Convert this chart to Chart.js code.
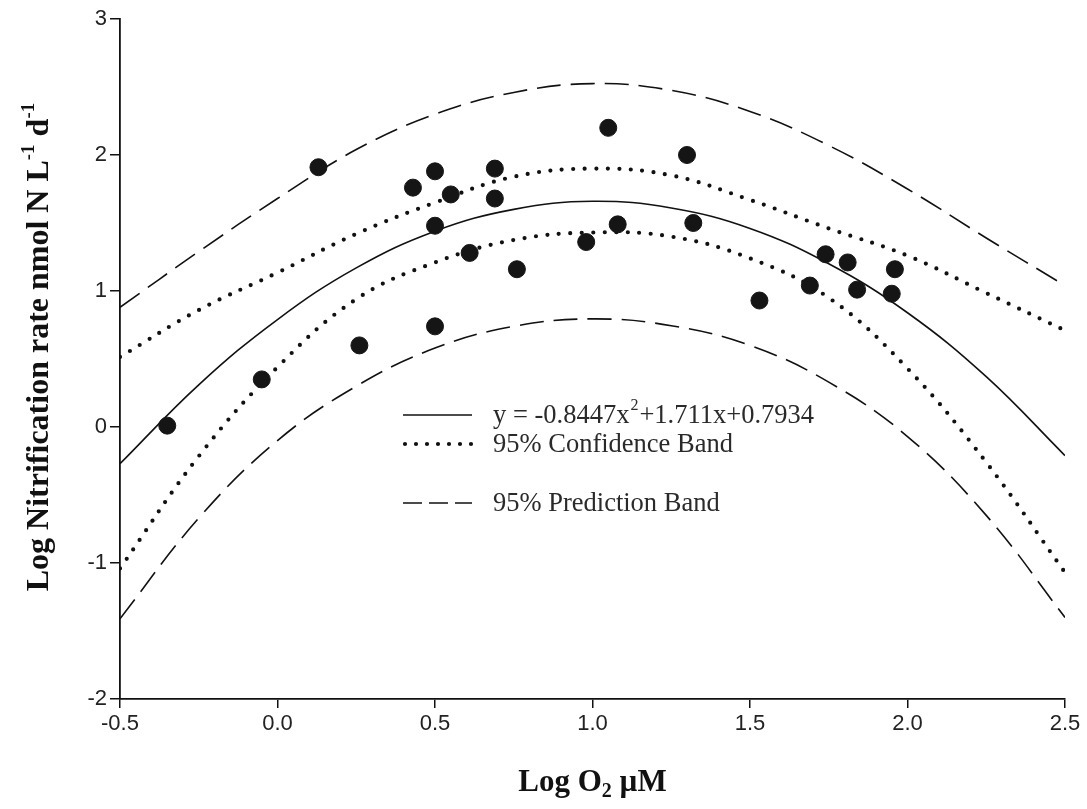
<!DOCTYPE html>
<html>
<head>
<meta charset="utf-8">
<script src="https://cdn.jsdelivr.net/npm/chart.js@4.4.1/dist/chart.umd.min.js"></script>
<style>
  html, body { margin: 0; padding: 0; background: #fff; }
  #wrap { width: 1087px; height: 809px; }
</style>
</head>
<body>
<div id="wrap"><canvas id="c" width="1087" height="809"></canvas></div>
<script>
// ---- Data ----
const curveX     = [-0.5, -0.25, 0.0, 0.25, 0.5, 0.75, 1.0, 1.25, 1.5, 1.75, 2.0, 2.25, 2.5];
const fitY       = [-0.27, 0.31, 0.79, 1.17, 1.44, 1.60, 1.66, 1.61, 1.46, 1.20, 0.84, 0.37, -0.21];
const confUpper  = [0.515, 0.86, 1.135, 1.42, 1.65, 1.84, 1.90, 1.85, 1.67, 1.46, 1.26, 0.985, 0.71];
const confLower  = [-1.04, -0.215, 0.44, 0.94, 1.21, 1.375, 1.43, 1.40, 1.24, 0.95, 0.43, -0.26, -1.07];
const predUpper  = [0.88, 1.29, 1.68, 2.04, 2.30, 2.46, 2.525, 2.475, 2.32, 2.07, 1.75, 1.39, 1.04];
const predLower  = [-1.41, -0.67, -0.10, 0.30, 0.58, 0.74, 0.795, 0.745, 0.60, 0.33, -0.07, -0.65, -1.40];

const obsX = [-0.35, -0.05, 0.13, 0.26, 0.43, 0.50, 0.50, 0.55, 0.50, 0.61, 0.69, 0.69, 0.76,
              0.98, 1.05, 1.08, 1.30, 1.32, 1.53, 1.69, 1.74, 1.81, 1.84, 1.95, 1.96];
const obsY = [0.01, 0.35, 1.91, 0.60, 1.76, 1.88, 1.48, 1.71, 0.74, 1.28, 1.90, 1.68, 1.16,
              1.36, 2.20, 1.49, 2.00, 1.50, 0.93, 1.04, 1.27, 1.21, 1.01, 0.98, 1.16];

const xTickValues = [-0.5, 0.0, 0.5, 1.0, 1.5, 2.0, 2.5];
const xTickLabels = ['-0.5', '0.0', '0.5', '1.0', '1.5', '2.0', '2.5'];
const yTickValues = [-2, -1, 0, 1, 2, 3];
const yTickLabels = ['-2', '-1', '0', '1', '2', '3'];

const legendLabels = ['y = -0.8447x', '2', '+1.711x+0.7934', '95% Confidence Band', '95% Prediction Band'];
const xTitleParts = ['Log O', '2', ' \u00B5M'];
const yTitleParts = ['Log Nitrification rate nmol N L', '-1', ' d', '-1'];

// ---- helpers ----
const toXY = (xs, ys) => xs.map((x, i) => ({ x: x, y: ys[i] }));
const SERIF = '"Liberation Serif", "Times New Roman", serif';
const TICKFONT = '"Liberation Sans", Arial, sans-serif';

const DOT = { borderDash: [0, 11.5], borderWidth: 4.2, borderCapStyle: 'round' };
const DASH = { borderDash: [24, 10], borderWidth: 1.6, borderCapStyle: 'butt' };

const curveBase = {
  showLine: true, pointRadius: 0, pointHoverRadius: 0, borderColor: '#111',
  backgroundColor: 'transparent', fill: false, tension: 0.4
};

const overlay = {
  id: 'overlay',
  afterDraw(chart) {
    const ctx = chart.ctx;
    const a = chart.chartArea;
    ctx.save();
    ctx.fillStyle = '#111';
    ctx.textBaseline = 'middle';

    // --- X title with subscript ---
    const fMain = 'bold 31px ' + SERIF, fSub = 'bold 20px ' + SERIF;
    ctx.font = fMain; const w1 = ctx.measureText(xTitleParts[0]).width;
    ctx.font = fSub;  const w2 = ctx.measureText(xTitleParts[1]).width;
    ctx.font = fMain; const w3 = ctx.measureText(xTitleParts[2]).width;
    let sx = (a.left + a.right) / 2 - (w1 + w2 + w3) / 2, ty = 783;
    ctx.textAlign = 'left';
    ctx.font = fMain; ctx.fillText(xTitleParts[0], sx, ty);
    ctx.font = fSub;  ctx.fillText(xTitleParts[1], sx + w1, ty + 9);
    ctx.font = fMain; ctx.fillText(xTitleParts[2], sx + w1 + w2, ty);

    // --- Y title with superscripts ---
    ctx.save();
    ctx.translate(40, 347);
    ctx.rotate(-Math.PI / 2);
    const fYMain = 'bold 32px ' + SERIF, fSup = 'bold 19px ' + SERIF;
    const widths = yTitleParts.map((t, i) => { ctx.font = (i % 2 === 1) ? fSup : fYMain; return ctx.measureText(t).width; });
    let px = -widths.reduce((s, v) => s + v, 0) / 2;
    yTitleParts.forEach((t, i) => {
      const sup = i % 2 === 1;
      ctx.font = sup ? fSup : fYMain;
      ctx.fillText(t, px, sup ? -11 : 0);
      px += widths[i];
    });
    ctx.restore();

    // --- Legend ---
    const lx0 = a.left + 283, lx1 = a.left + 352, tx = a.left + 373;
    const rows = [a.top + 396, a.top + 425, a.top + 484];
    ctx.strokeStyle = '#111';
    // solid
    ctx.setLineDash([]); ctx.lineWidth = 1.6; ctx.lineCap = 'butt';
    ctx.beginPath(); ctx.moveTo(lx0, rows[0]); ctx.lineTo(lx1, rows[0]); ctx.stroke();
    // dotted
    ctx.setLineDash([0, 11]); ctx.lineWidth = DOT.borderWidth; ctx.lineCap = 'round';
    ctx.beginPath(); ctx.moveTo(lx0 + 2, rows[1]); ctx.lineTo(lx1, rows[1]); ctx.stroke();
    // dashed
    ctx.setLineDash([19, 7]); ctx.lineWidth = DASH.borderWidth; ctx.lineCap = 'butt';
    ctx.beginPath(); ctx.moveTo(lx0, rows[2]); ctx.lineTo(lx1, rows[2]); ctx.stroke();
    ctx.setLineDash([]);

    ctx.fillStyle = '#2a2a2a';
    const fLeg = '26.5px ' + SERIF, fLegSup = '16px ' + SERIF;
    ctx.font = fLeg; ctx.fillText(legendLabels[0], tx, rows[0] + 1);
    const lw0 = ctx.measureText(legendLabels[0]).width;
    ctx.font = fLegSup; ctx.fillText(legendLabels[1], tx + lw0 + 1, rows[0] - 9);
    const lw1 = ctx.measureText(legendLabels[1]).width;
    ctx.font = fLeg; ctx.fillText(legendLabels[2], tx + lw0 + lw1 + 2, rows[0] + 1);
    ctx.fillText(legendLabels[3], tx, rows[1] + 1);
    ctx.fillText(legendLabels[4], tx, rows[2] + 1);
    ctx.restore();
  }
};

new Chart(document.getElementById('c'), {
  type: 'scatter',
  data: {
    datasets: [
      { label: 'Observed', data: toXY(obsX, obsY), pointRadius: 8.5, pointHoverRadius: 8.5,
        pointBackgroundColor: '#151515', pointBorderColor: '#151515', showLine: false },
      Object.assign({ label: 'Fit', data: toXY(curveX, fitY), borderWidth: 1.6 }, curveBase),
      Object.assign({ label: '95% Confidence Band upper', data: toXY(curveX, confUpper) }, curveBase, DOT),
      Object.assign({ label: '95% Confidence Band lower', data: toXY(curveX, confLower) }, curveBase, DOT),
      Object.assign({ label: '95% Prediction Band upper', data: toXY(curveX, predUpper) }, curveBase, DASH),
      Object.assign({ label: '95% Prediction Band lower', data: toXY(curveX, predLower) }, curveBase, DASH)
    ]
  },
  options: {
    responsive: false,
    animation: false,
    events: [],
    layout: { padding: { top: 19, right: 22, left: 0, bottom: 0 } },
    plugins: { legend: { display: false }, tooltip: { enabled: false } },
    scales: {
      x: {
        type: 'linear', min: -0.5, max: 2.5,
        afterBuildTicks: (s) => { s.ticks = xTickValues.map(v => ({ value: v })); },
        ticks: { callback: (v) => xTickLabels[xTickValues.indexOf(v)] ?? '', color: '#222',
                 font: { family: TICKFONT, size: 22 }, padding: 3, maxRotation: 0 },
        grid: { display: true, drawOnChartArea: false, drawTicks: true, tickLength: 9, color: '#111', lineWidth: 1.5 },
        border: { display: true, color: '#111', width: 1.8 },
        afterFit: (s) => { s.height = 110; }
      },
      y: {
        type: 'linear', min: -2, max: 3,
        afterBuildTicks: (s) => { s.ticks = yTickValues.map(v => ({ value: v })); },
        ticks: { callback: (v) => yTickLabels[yTickValues.indexOf(v)] ?? '', color: '#222',
                 font: { family: TICKFONT, size: 22 }, padding: 3 },
        grid: { display: true, drawOnChartArea: false, drawTicks: true, tickLength: 10, color: '#111', lineWidth: 1.5 },
        border: { display: true, color: '#111', width: 1.8 },
        afterFit: (s) => { s.width = 120; }
      }
    }
  },
  plugins: [overlay]
});
</script>
</body>
</html>
